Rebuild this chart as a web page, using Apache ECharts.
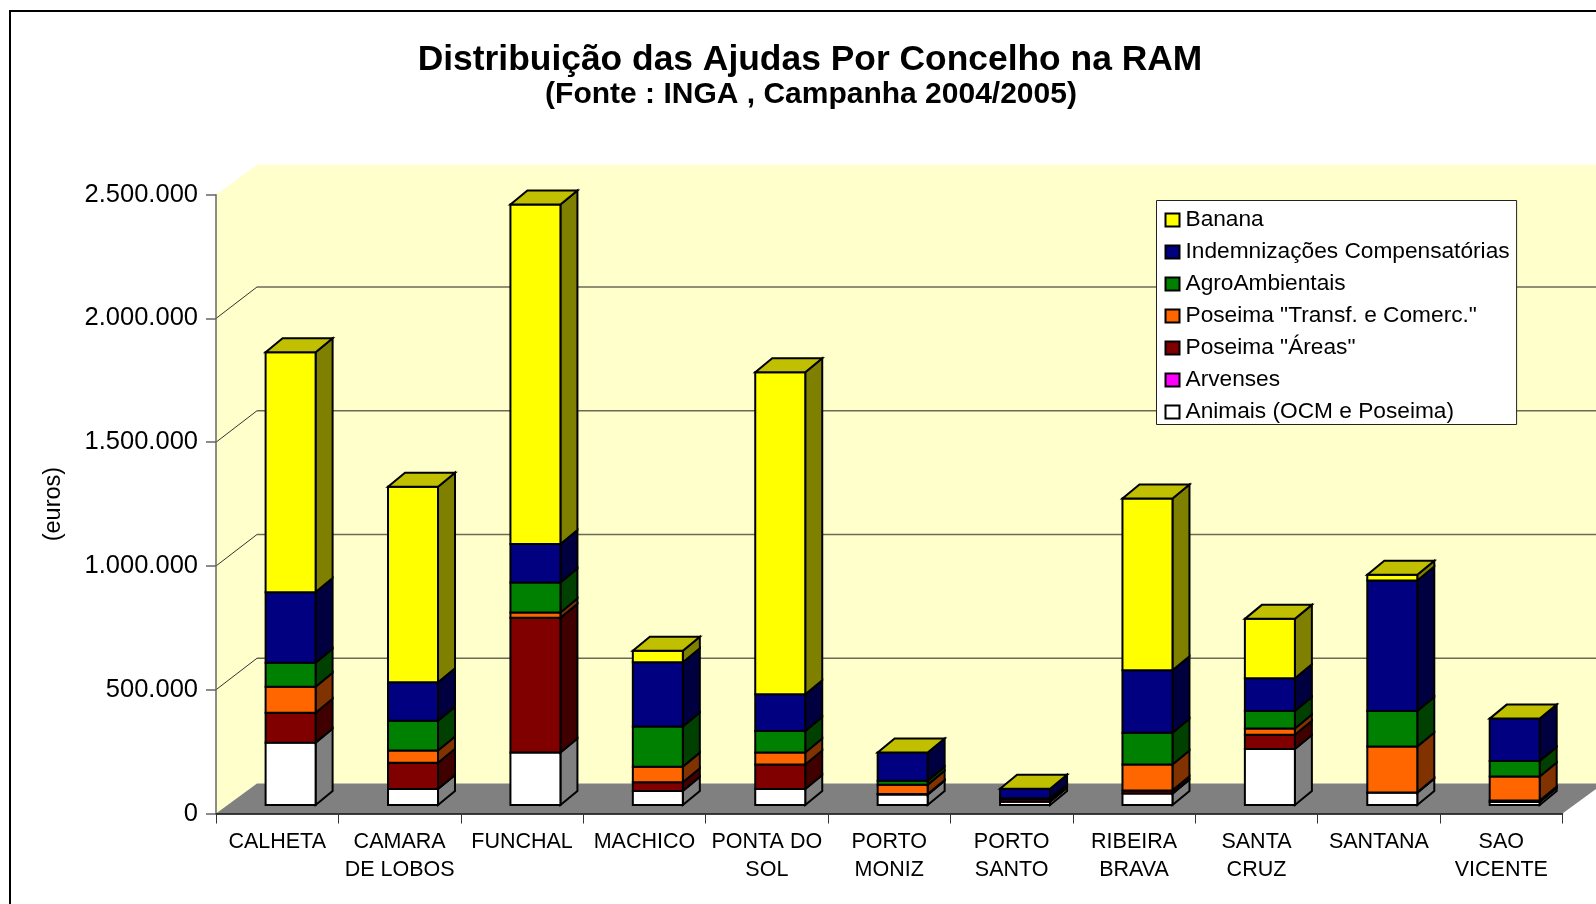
<!DOCTYPE html>
<html><head><meta charset="utf-8"><style>html,body{margin:0;padding:0;background:#fff;overflow:hidden}#c{width:1596px;height:904px}</style>
<script src="https://cdn.jsdelivr.net/npm/echarts@6/dist/echarts.min.js"></script></head>
<body><div id="c"></div>
<script>
const categories = ['CALHETA','CAMARA\nDE LOBOS','FUNCHAL','MACHICO','PONTA DO\nSOL','PORTO\nMONIZ','PORTO\nSANTO','RIBEIRA\nBRAVA','SANTA\nCRUZ','SANTANA','SAO\nVICENTE'];
const animais        = [252000, 65000,212000, 57000, 65000,42000,13000, 46000,226000, 50000, 12000];
const arvenses       = [0,0,0,0,0,0,0,0,0,0,0];
const poseimaAreas   = [121000,106000,544000, 35000, 99000, 2000,10000, 13000, 58000,  1000,  6000];
const poseimaTransf  = [105000, 49000, 22000, 63000, 48000,38000, 2000,105000, 25000,185000, 97000];
const agroAmbientais = [ 97000,120000,121000,162000, 87000,16000, 2000,128000, 71000,144000, 63000];
const indemnizacoes  = [285000,156000,155000,260000,148000,114000,39000,252000,132000,527000,171000];
const banana         = [969000,790000,1372000,46000,1301000,0,0,694000,240000,23000,0];
const yTicks = [0,500000,1000000,1500000,2000000,2500000];
const seriesNames = ['Animais (OCM e Poseima)','Arvenses','Poseima "Áreas"','Poseima "Transf. e Comerc."','AgroAmbientais','Indemnizações Compensatórias','Banana'];
const seriesValues = [animais,arvenses,poseimaAreas,poseimaTransf,agroAmbientais,indemnizacoes,banana];
const frontColors = ['#FFFFFF','#FF00FF','#800000','#FF6600','#008000','#000080','#FFFF00'];
const sideColors  = ['#808080','#800080','#400000','#803300','#004000','#000040','#808000'];
const topColor = '#C0C000';
const WALL_DX = 41, WALL_DY = 30, BAR_W = 50, BAR_SHIFT_X = 13.4, BAR_SHIFT_Y = 8.5, DEPTH_X = 17, DEPTH_Y = 14;

function fmt(v){ return String(v).replace(/\B(?=(\d{3})+$)/g,'.'); }

function renderWalls(params, api){
  const v = api.value(0);
  const cs = params.coordSys;
  const y = api.coord([0,v])[1];
  const L = cs.x, R = cs.x + cs.width, Y0 = cs.y + cs.height, Y1 = cs.y;
  const kids = [];
  if (v === 0){
    kids.push({type:'polygon',shape:{points:[[L,Y0],[L+WALL_DX,Y0-WALL_DY],[L+WALL_DX,Y1-WALL_DY],[L,Y1]]},style:{fill:'#FFFFCC'}});
    kids.push({type:'rect',shape:{x:L+WALL_DX,y:Y1-WALL_DY,width:R-L,height:Y0-Y1},style:{fill:'#FFFFCC'}});
    kids.push({type:'polygon',shape:{points:[[L,Y0],[L+WALL_DX,Y0-WALL_DY],[R+WALL_DX,Y0-WALL_DY],[R,Y0]]},style:{fill:'#808080'}});
  } else if (v < 2500000){
    kids.push({type:'polyline',shape:{points:[[L,y],[L+WALL_DX,y-WALL_DY-1.5]]},style:{stroke:'#333',lineWidth:1,fill:'none'}});
    kids.push({type:'line',shape:{x1:L+WALL_DX,y1:y-WALL_DY-1.5,x2:R+WALL_DX,y2:y-WALL_DY-1.5},style:{stroke:'#6b6b55',lineWidth:1.5}});
  }
  return {type:'group',children:kids};
}

function makeRenderBar(s){
  return function(params, api){
    const i = api.value(0), b = api.value(1), t = api.value(2);
    const cx = api.coord([i,0])[0] + BAR_SHIFT_X;
    const x0 = cx - BAR_W/2, x1 = cx + BAR_W/2;
    const yb = api.coord([i,b])[1] - BAR_SHIFT_Y;
    const yt = api.coord([i,t])[1] - BAR_SHIFT_Y;
    const line = {stroke:'#000',lineWidth:2,lineJoin:'miter'};
    const kids = [];
    if (t > b){
      kids.push({type:'polygon',shape:{points:[[x1,yb],[x1+DEPTH_X,yb-DEPTH_Y],[x1+DEPTH_X,yt-DEPTH_Y],[x1,yt]]},style:Object.assign({fill:sideColors[s]},line)});
      kids.push({type:'rect',shape:{x:x0,y:yt,width:BAR_W,height:yb-yt},style:Object.assign({fill:frontColors[s]},line)});
    }
    if (s === seriesNames.length-1){
      kids.push({type:'polygon',shape:{points:[[x0,yt],[x0+DEPTH_X,yt-DEPTH_Y],[x1+DEPTH_X,yt-DEPTH_Y],[x1,yt]]},style:Object.assign({fill:topColor},line)});
    }
    return {type:'group',children:kids};
  };
}

const cumul = categories.map(()=>0);
const barSeries = seriesNames.map((name,s)=>{
  const data = categories.map((c,i)=>{ const b = cumul[i]; cumul[i] += seriesValues[s][i]; return [i,b,cumul[i]]; });
  return {type:'custom',name,z:2,itemStyle:{color:frontColors[s]},encode:{x:0,y:[1,2]},data,renderItem:makeRenderBar(s),silent:true};
});

const chart = echarts.init(document.getElementById('c'),null,{renderer:'canvas',width:1596,height:904});
chart.setOption({
  animation:false,
  backgroundColor:'#fff',
  graphic:[{type:'rect',silent:true,z:-1,shape:{x:10,y:11,width:1700,height:1000},style:{fill:'transparent',stroke:'#000',lineWidth:2}}],
  title:[
    {text:'Distribuição das Ajudas Por Concelho na RAM',left:805,top:38,textAlign:'center',textStyle:{fontFamily:'Liberation Sans',fontWeight:'bold',fontSize:35.4,color:'#000'}},
    {text:'(Fonte : INGA , Campanha 2004/2005)',left:806,top:75,textAlign:'center',textStyle:{fontFamily:'Liberation Sans',fontWeight:'bold',fontSize:30,color:'#000'}}
  ],
  legend:{
    orient:'vertical',left:1156.5,top:200.5,padding:[7,7,0,8],itemWidth:14,itemHeight:13,itemGap:7,
    icon:'rect',backgroundColor:'#fff',borderColor:'#222',borderWidth:1,borderRadius:0,
    itemStyle:{borderColor:'#000',borderWidth:2},inactiveColor:'#000',selectedMode:false,
    textStyle:{fontFamily:'Liberation Sans',fontSize:22.7,color:'#000',lineHeight:25,padding:[0,0,0,1]},
    data:seriesNames.slice().reverse()
  },
  grid:{left:216,right:33.5,top:194.7,bottom:90.5,containLabel:false},
  xAxis:{type:'category',data:categories,z:3,
    axisLine:{show:true,onZero:false,lineStyle:{color:'#000',width:1.5}},
    axisTick:{show:true,length:10,lineStyle:{color:'#333',width:1}},
    axisLabel:{interval:0,margin:15,fontFamily:'Liberation Sans',fontSize:21.5,lineHeight:28,color:'#000',verticalAlign:'top'}},
  yAxis:{type:'value',min:0,max:2500000,interval:500000,z:3,
    name:'(euros)',nameLocation:'middle',nameGap:150,nameRotate:90,
    nameTextStyle:{fontFamily:'Liberation Sans',fontSize:23.5,color:'#000'},
    splitLine:{show:false},
    axisLine:{show:true,lineStyle:{color:'#666',width:1.5}},
    axisTick:{show:true,length:10,lineStyle:{color:'#666',width:1.5}},
    axisLabel:{margin:18,fontFamily:'Liberation Sans',fontSize:25.5,color:'#000',formatter:fmt}},
  series:[{type:'custom',z:1,silent:true,encode:{y:0},data:yTicks.map(v=>[v]),renderItem:renderWalls,clip:false}].concat(barSeries),
  tooltip:{show:false}
});
</script></body></html>
